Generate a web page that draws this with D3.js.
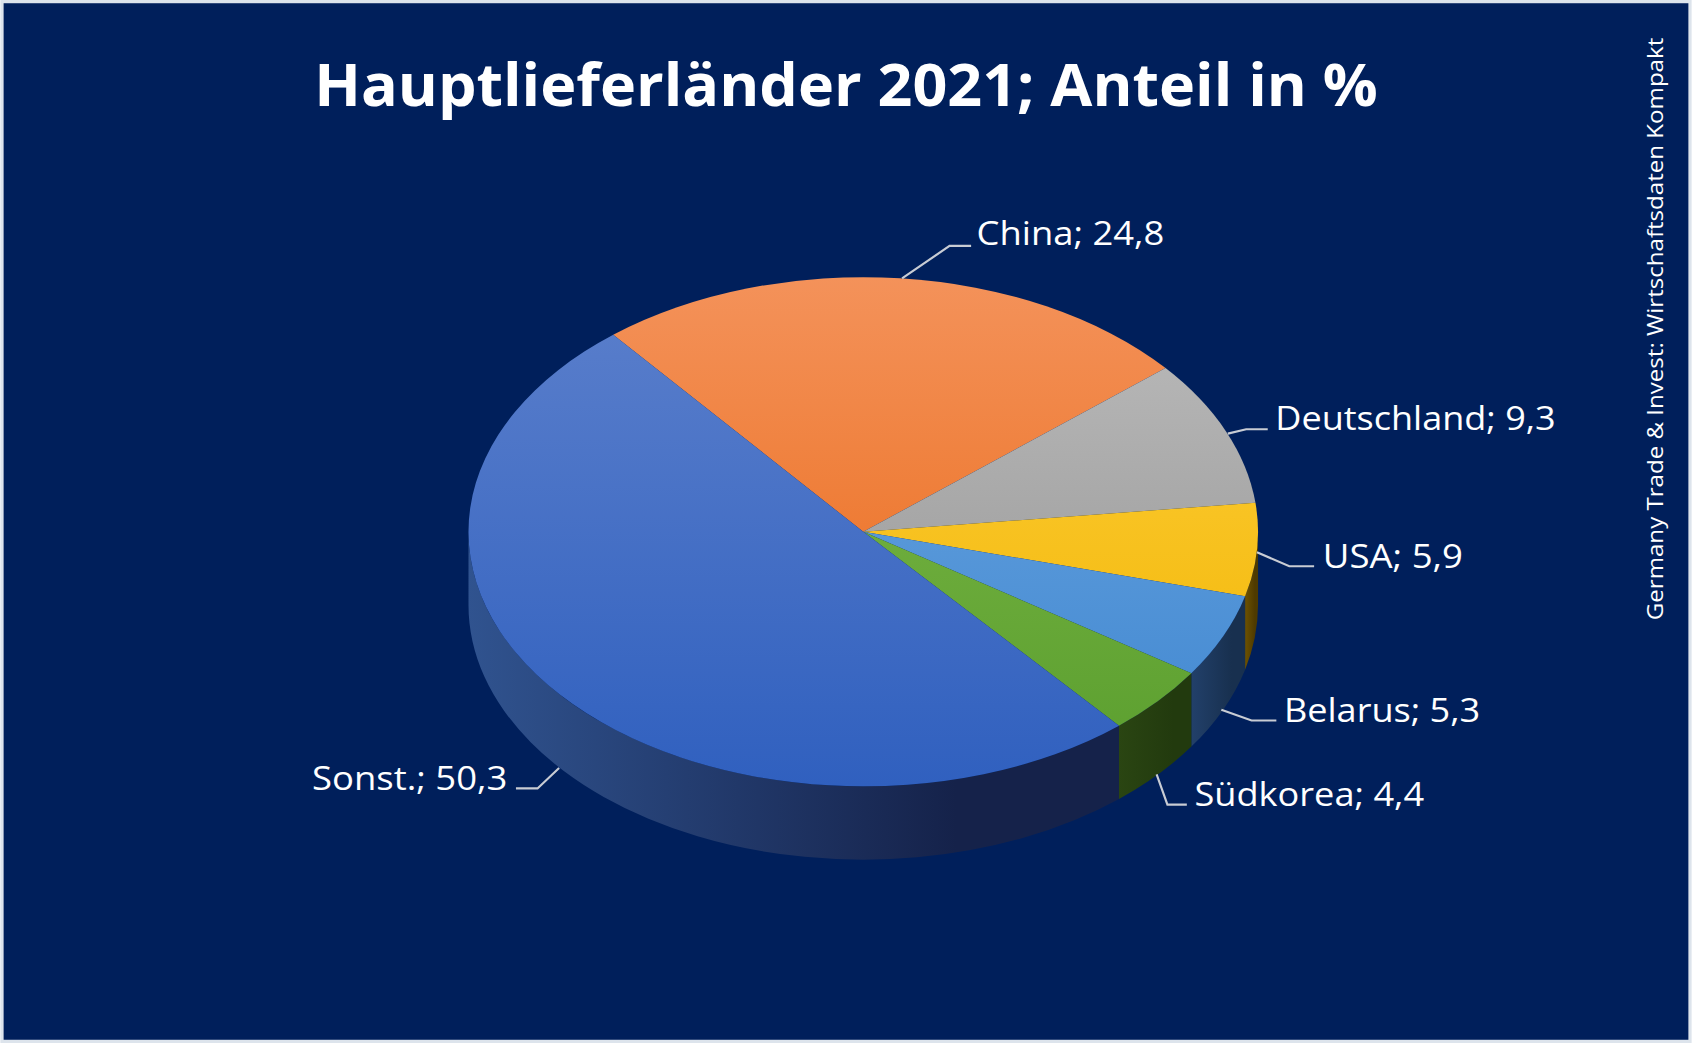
<!DOCTYPE html><html><head><meta charset="utf-8"><script src="https://cdn.jsdelivr.net/npm/d3@7"></script>
<style>body{margin:0;background:#fff}</style></head><body>
<script>
const categories=["China","Deutschland","USA","Belarus","Südkorea","Sonst."];
const values=[24.8,9.3,5.9,5.3,4.4,50.3];
const labels=["China; 24,8","Deutschland; 9,3","USA; 5,9","Belarus; 5,3","Südkorea; 4,4","Sonst.; 50,3"];
const topTop=["#f4925a","#bdbdbd","#ffd040","#6fa9e2","#80bb4a","#5c80cc"];
const topBot=["#e86510","#8f8f8f","#f0b400","#3f86d0","#5a9e2e","#3060bf"];
const sideA=["#7a3a10","#555","#6e5200","#22406a","#2a4512","#30538f"];
const sideB=["#5a2a08","#333","#4e3a00","#18304f","#223a0e","#15224a"];

const W=1568,H=967;
const svg=d3.select("body").append("svg").attr("width",1692).attr("height",1043).attr("viewBox",`0 0 ${W} ${H}`);
svg.append("rect").attr("width",W).attr("height",H).attr("fill","#dde4ec");
svg.append("rect").attr("x",3).attr("y",3).attr("width",W-6).attr("height",H-6).attr("fill","#001f5b");
const defs=svg.append("defs");
const cx=800,cy=493,rx=366,ry=236,dep=68;
const start=-39.3*Math.PI/180;
const pie=d3.pie().sort(null).startAngle(start).endAngle(start+2*Math.PI)(values);
const P=(t,d=0)=>[cx+rx*Math.sin(t),cy-ry*Math.cos(t)+d];
pie.forEach((s,i)=>{
  const a=Math.max(s.startAngle,Math.PI/2), b=Math.min(s.endAngle,3*Math.PI/2);
  if(b<=a) return;
  const g=defs.append("linearGradient").attr("id","s"+i).attr("x1",0).attr("x2",1).attr("y1",0).attr("y2",0);
  g.append("stop").attr("offset",0).attr("stop-color",sideA[i]);
  g.append("stop").attr("offset",0.75).attr("stop-color",sideB[i]);
  g.append("stop").attr("offset",1).attr("stop-color",sideB[i]);
  const p0=P(a),p1=P(b),q1=P(b,dep),q0=P(a,dep);
  const lg=(b-a)>Math.PI?1:0;
  svg.append("path").attr("fill",`url(#s${i})`)
   .attr("d",`M${p0}A${rx},${ry} 0 ${lg} 1 ${p1}L${q1}A${rx},${ry} 0 ${lg} 0 ${q0}Z`);
});
pie.forEach((s,i)=>{
  const g=defs.append("linearGradient").attr("id","t"+i).attr("gradientUnits","userSpaceOnUse").attr("x1",0).attr("x2",0).attr("y1",cy-ry).attr("y2",cy+ry);
  g.append("stop").attr("offset",0).attr("stop-color",topTop[i]);
  g.append("stop").attr("offset",1).attr("stop-color",topBot[i]);
  const p0=P(s.startAngle),p1=P(s.endAngle);
  const lg=(s.endAngle-s.startAngle)>Math.PI?1:0;
  svg.append("path").attr("fill",`url(#t${i})`)
   .attr("d",`M${cx},${cy}L${p0}A${rx},${ry} 0 ${lg} 1 ${p1}Z`);
});
const leaders=[[[836,258],[880,228],[900,228]],[[1138,402],[1155,398],[1175,398]],[[1165,512],[1195,525],[1218,525]],
 [[1132,658],[1160,668],[1183,668]],[[1072,718],[1082,746],[1100,746]],[[518,712],[498,731],[478,731]]];
const lpos=[[905,215,"start",174],[1182,387,"start",260],[1226,515,"start",130],[1190,657,"start",182],[1107,735,"start",213],[470,720,"end",181]];
leaders.forEach((l,i)=>{
  svg.append("path").attr("d",d3.line()(l)).attr("fill","none").attr("stroke","#c8ccd4").attr("stroke-width",2);
  svg.append("text").attr("x",lpos[i][0]).attr("y",lpos[i][1]).attr("text-anchor",lpos[i][2]).attr("dominant-baseline","central")
   .attr("fill","#fff").attr("font-family","'Open Sans'").attr("font-size",31)
   .attr("textLength",lpos[i][3]).attr("lengthAdjust","spacingAndGlyphs").text(labels[i]);
});
svg.append("text").attr("x",784).attr("y",98).attr("text-anchor","middle").attr("fill","#fff").attr("font-weight","bold")
 .attr("font-family","'Open Sans'").attr("font-size",54).attr("textLength",986).attr("lengthAdjust","spacingAndGlyphs").text("Hauptlieferländer 2021; Anteil in %");
svg.append("text").attr("transform","translate(1534,305) rotate(-90)").attr("text-anchor","middle").attr("dominant-baseline","central")
 .attr("fill","#fff").attr("font-family","'Open Sans'").attr("font-size",20).attr("textLength",540).attr("lengthAdjust","spacingAndGlyphs").text("Germany Trade & Invest: Wirtschaftsdaten Kompakt");
</script></body></html>
